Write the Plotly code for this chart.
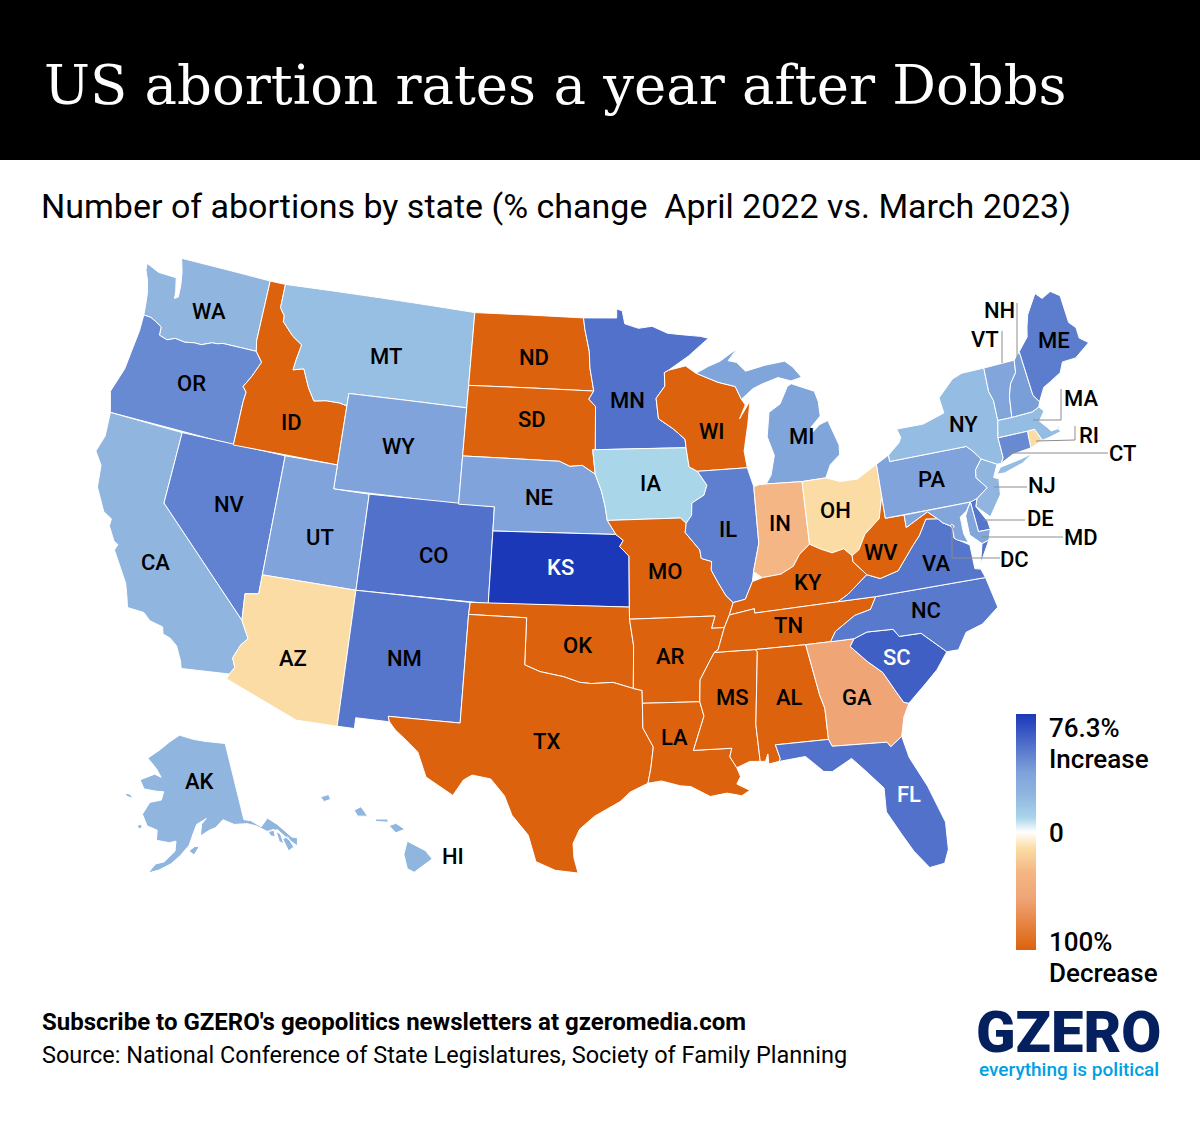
import plotly.graph_objects as go
from plotly.colors import sample_colorscale

state_codes = ["WA", "OR", "CA", "NV", "ID", "MT", "WY", "UT", "AZ", "CO", "NM", "ND", "SD", "NE", "KS", "OK", "TX",
               "MN", "IA", "MO", "AR", "LA", "WI", "IL", "MS", "MI", "IN", "OH", "KY", "TN", "AL", "GA", "FL", "SC",
               "NC", "VA", "WV", "PA", "NY", "VT", "NH", "ME", "MA", "RI", "CT", "NJ", "DE", "MD", "DC", "AK", "HI"]
pct_change = [24, 47, 24, 50, -100, 20, 38, 38, -14, 56, 54, -100, -100, 38, 76.3, -100, -100,
              56, 9, -100, -100, -100, -100, 51, -100, 37, -34, -14, -100, -100, -100, -56, 56, 62.5,
              53, 54, -100, 38, 21, 36, 40, 52, 21, -14, 47, 24, 54, 36, 40, 24, 24]

# rough state outlines, lon/lat
state_outlines = {
    "WA": [[(-124.73, 48.38), (-123.9, 48.16), (-122.75, 48.15), (-122.55, 47.6), (-122.5, 47.3), (-122.3, 47.4), (-122.35, 47.9), (-122.5, 48.45), (-122.76, 49.0), (-117.03, 49.0), (-117.04, 46.43), (-116.92, 46.0), (-118.98, 46.0), (-119.3, 45.93), (-119.6, 45.92), (-120.2, 45.73), (-120.65, 45.73), (-121.2, 45.65), (-121.8, 45.7), (-122.25, 45.55), (-122.76, 45.65), (-122.8, 46.0), (-123.2, 46.15), (-123.55, 46.26), (-124.0, 46.27), (-124.07, 46.7), (-124.18, 47.2), (-124.4, 47.7), (-124.68, 48.1)]],
    "OR": [[(-124.0, 46.27), (-123.55, 46.26), (-123.2, 46.15), (-122.8, 46.0), (-122.76, 45.65), (-122.25, 45.55), (-121.8, 45.7), (-121.2, 45.65), (-120.65, 45.73), (-120.2, 45.73), (-119.6, 45.92), (-119.3, 45.93), (-118.98, 46.0), (-116.92, 46.0), (-116.47, 45.6), (-116.85, 44.95), (-117.22, 44.45), (-116.98, 44.25), (-117.03, 43.83), (-117.03, 42.0), (-124.21, 42.0), (-124.56, 42.84), (-124.15, 43.9), (-124.07, 44.7), (-123.97, 45.6)]],
    "CA": [[(-124.21, 42.0), (-120.0, 42.0), (-120.0, 39.0), (-114.63, 35.0), (-114.14, 34.3), (-114.44, 34.0), (-114.72, 33.4), (-114.52, 33.03), (-114.72, 32.72), (-117.12, 32.53), (-117.25, 32.85), (-117.6, 33.4), (-118.0, 33.65), (-118.4, 33.75), (-118.5, 34.03), (-119.2, 34.15), (-119.6, 34.42), (-120.47, 34.45), (-120.65, 34.9), (-120.88, 35.4), (-121.9, 36.6), (-121.8, 36.85), (-122.05, 36.95), (-122.5, 37.5), (-122.5, 37.8), (-123.0, 38.0), (-123.7, 38.9), (-123.85, 39.8), (-124.35, 40.3), (-124.1, 41.0)]],
    "NV": [[(-120.0, 42.0), (-114.04, 42.0), (-114.04, 36.2), (-114.74, 36.1), (-114.63, 35.0), (-120.0, 39.0)]],
    "ID": [[(-117.03, 49.0), (-116.05, 49.0), (-116.05, 48.0), (-115.72, 47.7), (-115.7, 47.45), (-114.95, 46.93), (-114.33, 46.65), (-114.48, 46.0), (-114.55, 45.56), (-113.93, 45.69), (-113.45, 44.95), (-113.0, 44.45), (-112.3, 44.55), (-111.5, 44.55), (-111.05, 44.48), (-111.05, 42.0), (-117.03, 42.0), (-117.03, 43.83), (-116.98, 44.25), (-117.22, 44.45), (-116.85, 44.95), (-116.47, 45.6), (-116.92, 46.0), (-117.04, 46.43)]],
    "MT": [[(-116.05, 49.0), (-104.05, 49.0), (-104.05, 45.0), (-111.05, 45.0), (-111.05, 44.48), (-111.5, 44.55), (-112.3, 44.55), (-113.0, 44.45), (-113.45, 44.95), (-113.93, 45.69), (-114.55, 45.56), (-114.48, 46.0), (-114.33, 46.65), (-114.95, 46.93), (-115.7, 47.45), (-115.72, 47.7), (-116.05, 48.0)]],
    "WY": [[(-111.05, 45.0), (-104.05, 45.0), (-104.05, 41.0), (-111.05, 41.0)]],
    "UT": [[(-114.04, 42.0), (-111.05, 42.0), (-111.05, 41.0), (-109.05, 41.0), (-109.05, 37.0), (-114.04, 37.0)]],
    "CO": [[(-109.05, 41.0), (-102.05, 41.0), (-102.05, 37.0), (-109.05, 37.0)]],
    "AZ": [[(-114.04, 37.0), (-109.05, 37.0), (-109.05, 31.33), (-111.07, 31.33), (-114.81, 32.5), (-114.72, 32.72), (-114.52, 33.03), (-114.72, 33.4), (-114.44, 34.0), (-114.14, 34.3), (-114.63, 35.0), (-114.74, 36.1), (-114.04, 36.2)]],
    "NM": [[(-109.05, 37.0), (-103.0, 37.0), (-103.04, 36.5), (-103.06, 32.0), (-106.62, 32.0), (-106.53, 31.78), (-108.2, 31.78), (-108.2, 31.33), (-109.05, 31.33)]],
    "ND": [[(-104.05, 49.0), (-97.23, 49.0), (-97.13, 48.5), (-96.85, 47.6), (-96.8, 46.9), (-96.56, 45.94), (-104.05, 45.94)]],
    "SD": [[(-104.05, 45.94), (-96.56, 45.94), (-96.85, 45.6), (-96.45, 45.3), (-96.45, 43.5), (-96.6, 43.5), (-96.45, 42.49), (-97.2, 42.85), (-97.9, 42.8), (-98.5, 43.0), (-104.05, 43.0)]],
    "NE": [[(-104.05, 43.0), (-98.5, 43.0), (-97.9, 42.8), (-97.2, 42.85), (-96.45, 42.49), (-96.1, 41.8), (-95.9, 41.2), (-95.77, 40.58), (-95.3, 40.0), (-102.05, 40.0), (-102.05, 41.0), (-104.05, 41.0)]],
    "KS": [[(-102.05, 40.0), (-95.3, 40.0), (-94.9, 39.75), (-95.1, 39.5), (-94.6, 39.1), (-94.62, 37.0), (-102.05, 37.0)]],
    "OK": [[(-103.0, 37.0), (-94.62, 37.0), (-94.62, 36.5), (-94.43, 35.4), (-94.48, 33.64), (-95.5, 33.9), (-96.6, 33.85), (-97.2, 33.9), (-98.0, 34.12), (-99.2, 34.3), (-100.0, 34.56), (-100.0, 36.5), (-103.04, 36.5)]],
    "TX": [[(-103.04, 36.5), (-100.0, 36.5), (-100.0, 34.56), (-99.2, 34.3), (-98.0, 34.12), (-97.2, 33.9), (-96.6, 33.85), (-95.5, 33.9), (-94.48, 33.64), (-94.04, 33.55), (-94.04, 33.02), (-94.04, 32.0), (-93.55, 31.2), (-93.7, 30.3), (-93.85, 29.7), (-94.7, 29.35), (-95.2, 28.95), (-96.4, 28.35), (-97.1, 27.8), (-97.4, 27.2), (-97.35, 26.6), (-97.15, 25.96), (-98.2, 26.06), (-99.1, 26.4), (-99.5, 27.5), (-100.3, 28.3), (-100.7, 29.1), (-101.4, 29.77), (-102.3, 29.88), (-102.7, 29.65), (-103.15, 28.98), (-104.5, 29.65), (-105.0, 30.65), (-105.6, 31.08), (-106.2, 31.47), (-106.53, 31.78), (-106.62, 32.0), (-103.06, 32.0)]],
    "MN": [[(-97.23, 49.0), (-95.15, 49.0), (-95.15, 49.38), (-94.8, 49.3), (-94.65, 48.75), (-93.8, 48.55), (-92.95, 48.62), (-92.0, 48.3), (-91.0, 48.2), (-90.0, 48.1), (-89.5, 48.0), (-90.8, 47.3), (-92.05, 46.75), (-92.3, 46.66), (-92.3, 46.1), (-92.85, 45.6), (-92.75, 44.75), (-91.9, 44.3), (-91.25, 43.85), (-91.22, 43.5), (-96.45, 43.5), (-96.45, 45.3), (-96.85, 45.6), (-96.56, 45.94), (-96.8, 46.9), (-96.85, 47.6), (-97.13, 48.5)]],
    "IA": [[(-96.6, 43.5), (-91.22, 43.5), (-91.1, 42.7), (-90.64, 42.5), (-90.15, 41.9), (-90.35, 41.5), (-91.05, 41.2), (-91.1, 40.7), (-91.42, 40.38), (-91.73, 40.61), (-95.77, 40.58), (-95.9, 41.2), (-96.1, 41.8), (-96.45, 42.49)]],
    "MO": [[(-95.77, 40.58), (-91.73, 40.61), (-91.42, 40.38), (-91.5, 40.0), (-90.75, 39.25), (-90.7, 38.9), (-90.15, 38.75), (-90.2, 38.4), (-89.9, 37.9), (-89.5, 37.3), (-89.15, 37.0), (-89.4, 36.5), (-89.7, 36.0), (-90.37, 36.0), (-90.15, 36.5), (-94.62, 36.5), (-94.62, 37.0), (-94.6, 39.1), (-95.1, 39.5), (-94.9, 39.75), (-95.3, 40.0)]],
    "AR": [[(-94.62, 36.5), (-90.15, 36.5), (-90.37, 36.0), (-89.7, 36.0), (-90.1, 35.1), (-90.3, 35.0), (-90.6, 34.6), (-91.1, 33.9), (-91.17, 33.0), (-94.04, 33.02), (-94.04, 33.55), (-94.48, 33.64), (-94.43, 35.4)]],
    "LA": [[(-94.04, 33.02), (-91.17, 33.0), (-91.0, 32.4), (-91.6, 31.0), (-89.73, 31.0), (-89.85, 30.65), (-89.55, 30.18), (-89.4, 29.8), (-89.6, 29.5), (-89.0, 29.2), (-89.4, 29.0), (-90.1, 29.15), (-90.9, 29.05), (-91.8, 29.5), (-92.3, 29.55), (-93.2, 29.78), (-93.85, 29.7), (-93.7, 30.3), (-93.55, 31.2), (-94.04, 32.0)]],
    "MS": [[(-91.17, 33.0), (-91.1, 33.9), (-90.6, 34.6), (-90.3, 35.0), (-88.2, 35.0), (-88.1, 34.9), (-88.47, 31.9), (-88.4, 30.37), (-88.9, 30.4), (-89.55, 30.18), (-89.85, 30.65), (-89.73, 31.0), (-91.6, 31.0), (-91.0, 32.4)]],
    "AL": [[(-88.2, 35.0), (-85.6, 35.0), (-85.18, 32.87), (-85.0, 32.3), (-85.0, 31.0), (-87.6, 31.0), (-87.42, 30.4), (-87.5, 30.3), (-88.0, 30.23), (-88.0, 30.65), (-88.15, 30.35), (-88.4, 30.37), (-88.47, 31.9), (-88.1, 34.9)]],
    "GA": [[(-85.6, 35.0), (-83.1, 35.0), (-83.35, 34.7), (-82.6, 34.0), (-81.9, 33.45), (-81.4, 32.6), (-81.1, 32.1), (-80.85, 32.03), (-81.2, 31.5), (-81.45, 30.72), (-82.05, 30.36), (-82.2, 30.57), (-84.86, 30.7), (-85.0, 31.0), (-85.0, 32.3), (-85.18, 32.87)]],
    "FL": [[(-87.6, 31.0), (-85.0, 31.0), (-84.86, 30.7), (-82.2, 30.57), (-82.05, 30.36), (-81.45, 30.72), (-81.25, 29.8), (-80.6, 28.5), (-80.05, 26.9), (-80.13, 25.75), (-80.4, 25.2), (-81.1, 25.12), (-81.7, 25.9), (-82.15, 26.7), (-82.7, 27.7), (-82.65, 28.7), (-83.4, 29.5), (-84.0, 30.1), (-85.0, 29.65), (-85.4, 29.7), (-86.2, 30.4), (-87.5, 30.3), (-87.42, 30.4)]],
    "SC": [[(-83.1, 35.0), (-82.4, 35.2), (-81.05, 35.15), (-80.8, 34.82), (-79.67, 34.8), (-78.55, 33.86), (-79.2, 33.2), (-79.9, 32.7), (-80.85, 32.03), (-81.1, 32.1), (-81.4, 32.6), (-81.9, 33.45), (-82.6, 34.0), (-83.35, 34.7)]],
    "NC": [[(-84.32, 35.0), (-83.1, 35.0), (-82.4, 35.2), (-81.05, 35.15), (-80.8, 34.82), (-79.67, 34.8), (-78.55, 33.86), (-77.95, 33.85), (-77.4, 34.5), (-76.5, 34.7), (-75.55, 35.25), (-75.85, 36.55), (-81.68, 36.59), (-82.05, 36.1), (-82.9, 35.95), (-84.0, 35.4)]],
    "TN": [[(-90.3, 35.0), (-88.2, 35.0), (-85.6, 35.0), (-84.32, 35.0), (-84.0, 35.4), (-82.9, 35.95), (-82.05, 36.1), (-81.68, 36.59), (-83.68, 36.6), (-88.07, 36.5), (-88.07, 36.68), (-89.4, 36.5), (-89.7, 36.0), (-90.1, 35.1)]],
    "KY": [[(-89.4, 36.5), (-88.07, 36.68), (-88.07, 36.5), (-83.68, 36.6), (-83.1, 36.85), (-81.97, 37.54), (-82.6, 38.15), (-82.6, 38.4), (-83.0, 38.73), (-83.65, 38.63), (-84.25, 38.85), (-84.8, 39.1), (-85.4, 38.73), (-85.8, 38.27), (-86.5, 38.0), (-87.5, 37.93), (-88.05, 37.8), (-88.5, 37.1), (-89.15, 37.0)]],
    "VA": [[(-83.68, 36.6), (-81.68, 36.59), (-75.85, 36.55), (-76.0, 36.93), (-76.3, 37.0), (-76.3, 37.6), (-76.3, 38.0), (-77.05, 38.4), (-77.04, 38.8), (-77.12, 38.93), (-77.5, 39.12), (-77.72, 39.32), (-78.35, 39.4), (-78.87, 38.77), (-79.3, 38.42), (-80.3, 37.5), (-81.3, 37.3), (-81.97, 37.54), (-83.1, 36.85)],
           [(-75.95, 37.15), (-75.65, 37.95), (-75.25, 38.03)]],
    "WV": [[(-81.97, 37.54), (-81.3, 37.3), (-80.3, 37.5), (-79.3, 38.42), (-78.87, 38.77), (-78.35, 39.4), (-77.72, 39.32), (-78.2, 39.68), (-79.48, 39.2), (-79.48, 39.72), (-80.52, 39.72), (-80.52, 40.64), (-80.85, 39.75), (-81.75, 39.2), (-82.2, 38.6), (-82.6, 38.4), (-82.6, 38.15)]],
    "OH": [[(-84.8, 41.7), (-83.45, 41.73), (-82.7, 41.5), (-81.7, 41.5), (-80.52, 41.98), (-80.52, 40.64), (-80.85, 39.75), (-81.75, 39.2), (-82.2, 38.6), (-82.6, 38.4), (-83.0, 38.73), (-83.65, 38.63), (-84.25, 38.85), (-84.8, 39.1)]],
    "IN": [[(-87.53, 41.7), (-87.2, 41.76), (-86.82, 41.76), (-84.8, 41.7), (-84.8, 39.1), (-85.4, 38.73), (-85.8, 38.27), (-86.5, 38.0), (-87.5, 37.93), (-87.95, 38.2), (-87.53, 39.35)]],
    "IL": [[(-90.64, 42.5), (-87.8, 42.5), (-87.53, 41.7), (-87.53, 39.35), (-87.95, 38.2), (-88.05, 37.8), (-88.5, 37.1), (-89.15, 37.0), (-89.5, 37.3), (-89.9, 37.9), (-90.2, 38.4), (-90.15, 38.75), (-90.7, 38.9), (-90.75, 39.25), (-91.5, 40.0), (-91.42, 40.38), (-91.1, 40.7), (-91.05, 41.2), (-90.35, 41.5), (-90.15, 41.9)]],
    "WI": [[(-92.05, 46.75), (-91.0, 46.9), (-90.4, 46.57), (-89.1, 46.13), (-88.1, 45.9), (-87.8, 45.35), (-87.6, 45.1), (-88.0, 44.55), (-87.3, 45.25), (-87.55, 44.3), (-87.9, 43.2), (-87.8, 42.5), (-90.64, 42.5), (-91.1, 42.7), (-91.22, 43.5), (-91.25, 43.85), (-91.9, 44.3), (-92.75, 44.75), (-92.85, 45.6), (-92.3, 46.1), (-92.3, 46.66)]],
    "MI": [[(-86.82, 41.76), (-86.5, 42.1), (-86.2, 42.9), (-86.5, 43.7), (-86.25, 44.7), (-85.55, 45.0), (-85.0, 45.7), (-84.75, 45.78), (-83.45, 45.35), (-83.3, 44.9), (-83.3, 44.3), (-83.9, 43.9), (-83.9, 43.65), (-83.4, 43.95), (-82.9, 44.07), (-82.45, 43.0), (-82.5, 42.6), (-83.1, 42.25), (-83.45, 41.73), (-84.8, 41.7)],
           [(-90.4, 46.57), (-89.1, 46.13), (-88.1, 45.9), (-87.8, 45.35), (-87.05, 45.75), (-86.5, 45.9), (-85.5, 46.1), (-84.75, 45.9), (-84.1, 46.0), (-84.55, 46.47), (-85.0, 46.75), (-86.2, 46.67), (-87.4, 46.5), (-87.9, 46.9), (-88.4, 47.0), (-87.8, 47.47), (-88.9, 47.0), (-89.6, 46.83)]],
    "PA": [[(-80.52, 41.98), (-79.76, 42.27), (-79.76, 42.0), (-75.35, 42.0), (-75.05, 41.75), (-74.7, 41.36), (-75.13, 40.97), (-75.2, 40.65), (-74.72, 40.15), (-75.4, 39.8), (-75.79, 39.72), (-80.52, 39.72)]],
    "NY": [[(-79.76, 42.27), (-79.05, 42.7), (-78.9, 42.9), (-79.05, 43.27), (-77.5, 43.27), (-76.2, 43.55), (-76.3, 44.2), (-75.3, 44.85), (-74.7, 45.0), (-73.35, 45.0), (-73.4, 44.0), (-73.25, 43.6), (-73.28, 42.75), (-73.5, 42.05), (-73.48, 41.2), (-73.66, 41.0), (-73.9, 41.0), (-74.7, 41.36), (-75.05, 41.75), (-75.35, 42.0), (-79.76, 42.0)],
           [(-74.03, 40.6), (-73.75, 40.85), (-72.6, 40.97), (-71.87, 41.07), (-72.5, 40.8), (-73.6, 40.58)]],
    "VT": [[(-73.35, 45.0), (-71.5, 45.01), (-71.6, 44.5), (-72.05, 44.1), (-72.3, 43.6), (-72.46, 42.73), (-73.28, 42.75), (-73.25, 43.6), (-73.4, 44.0)]],
    "NH": [[(-71.5, 45.01), (-71.08, 45.3), (-70.97, 43.4), (-70.7, 43.07), (-70.82, 42.87), (-71.25, 42.74), (-72.46, 42.73), (-72.3, 43.6), (-72.05, 44.1), (-71.6, 44.5)]],
    "ME": [[(-71.08, 45.3), (-70.4, 45.8), (-70.25, 46.2), (-70.0, 46.7), (-69.23, 47.46), (-68.9, 47.18), (-68.3, 47.36), (-67.8, 47.07), (-67.78, 45.9), (-67.45, 45.6), (-67.45, 45.15), (-67.0, 44.85), (-68.0, 44.4), (-68.8, 44.4), (-69.1, 44.0), (-69.8, 43.75), (-70.25, 43.6), (-70.7, 43.07), (-70.97, 43.4)]],
    "MA": [[(-73.5, 42.05), (-73.28, 42.75), (-72.46, 42.73), (-71.25, 42.74), (-70.82, 42.87), (-70.6, 42.65), (-71.0, 42.3), (-70.65, 41.95), (-70.5, 41.78), (-70.0, 41.8), (-70.25, 42.07), (-70.0, 41.65), (-70.65, 41.55), (-71.12, 41.5), (-71.38, 42.02), (-71.8, 42.02)]],
    "RI": [[(-71.8, 42.02), (-71.38, 42.02), (-71.12, 41.5), (-71.85, 41.32)]],
    "CT": [[(-73.5, 42.05), (-71.8, 42.02), (-71.85, 41.32), (-72.9, 41.25), (-73.66, 41.0), (-73.48, 41.2)]],
    "NJ": [[(-74.7, 41.36), (-73.9, 41.0), (-74.25, 40.5), (-73.98, 40.4), (-74.1, 39.75), (-74.9, 38.95), (-75.55, 39.5), (-75.4, 39.8), (-74.72, 40.15), (-75.2, 40.65), (-75.13, 40.97)]],
    "DE": [[(-75.79, 39.72), (-75.4, 39.8), (-75.55, 39.5), (-75.1, 38.8), (-75.05, 38.45), (-75.7, 38.46)]],
    "MD": [[(-79.48, 39.72), (-75.79, 39.72), (-76.1, 39.4), (-76.5, 39.2), (-76.5, 38.5), (-76.35, 38.1), (-76.9, 38.3), (-77.05, 38.4), (-77.04, 38.8), (-77.12, 38.93), (-77.5, 39.12), (-77.72, 39.32), (-78.2, 39.68), (-79.48, 39.2)],
           [(-75.95, 39.55), (-75.79, 39.72), (-75.7, 38.46), (-75.05, 38.45), (-75.25, 38.03), (-75.65, 37.95), (-76.2, 38.4), (-76.2, 39.2)]],
    "DC": [[(-77.12, 38.93), (-77.04, 38.99), (-76.91, 38.89), (-77.04, 38.8)]],
    "AK": [[(-141.0, 69.65), (-141.0, 60.3), (-139.5, 60.0), (-137.5, 58.95), (-135.5, 59.7), (-133.8, 58.6), (-131.8, 56.6), (-130.0, 56.0), (-130.2, 55.0), (-131.2, 55.2), (-132.6, 56.4), (-134.2, 58.0), (-136.5, 58.2), (-138.5, 59.2), (-140.5, 59.75), (-143.5, 60.0), (-146.0, 60.8), (-148.0, 60.0), (-149.5, 59.8), (-151.8, 59.2), (-151.3, 60.6), (-150.0, 61.2), (-152.5, 60.6), (-153.5, 59.5), (-154.5, 58.2), (-156.5, 57.0), (-158.5, 56.0), (-161.0, 55.2), (-163.2, 54.75), (-161.8, 55.9), (-160.0, 56.2), (-157.7, 57.5), (-157.5, 58.7), (-159.0, 58.5), (-162.0, 58.7), (-162.0, 59.9), (-164.5, 60.3), (-166.0, 61.6), (-165.0, 62.6), (-164.5, 63.1), (-161.5, 63.5), (-161.0, 64.5), (-163.0, 64.5), (-166.5, 64.6), (-168.0, 65.6), (-164.0, 66.5), (-162.0, 66.2), (-163.7, 67.2), (-166.7, 68.3), (-163.0, 69.5), (-160.0, 70.5), (-156.5, 71.35), (-152.0, 70.8), (-148.0, 70.4), (-144.0, 70.0)],
           [(-154.6, 57.5), (-153.3, 58.0), (-152.2, 58.0), (-153.5, 57.0)],
           [(-166.9, 60.2), (-166.0, 60.4), (-165.6, 60.0), (-166.4, 59.85)],
           [(-171.7, 63.7), (-170.0, 63.7), (-169.0, 63.3), (-170.5, 63.35)],
           [(-167.0, 53.95), (-166.2, 54.0), (-166.3, 53.5)],
           [(-169.0, 53.4), (-167.8, 53.6), (-168.5, 53.1)],
           [(-136.3, 58.2), (-134.9, 58.2), (-135.2, 57.3), (-136.1, 57.6)],
           [(-134.6, 57.9), (-133.9, 57.4), (-133.9, 56.2), (-134.7, 56.6)],
           [(-133.8, 56.8), (-132.6, 56.8), (-132.2, 55.4), (-133.5, 55.2)]],
    "HI": [[(-155.9, 20.25), (-155.1, 19.85), (-154.8, 19.5), (-155.6, 18.95), (-155.9, 19.1), (-156.05, 19.7)],
           [(-156.7, 20.9), (-156.4, 21.0), (-156.0, 20.75), (-156.4, 20.6)],
           [(-158.25, 21.55), (-157.95, 21.7), (-157.65, 21.3), (-158.1, 21.3)],
           [(-159.75, 22.1), (-159.4, 22.2), (-159.3, 22.0), (-159.6, 21.9)],
           [(-157.3, 21.18), (-156.75, 21.18), (-156.75, 21.05), (-157.3, 21.08)]],
}
# the reference places its insets a little apart from the stock albers usa ones
inset_shift = {"AK": (3, 0), "HI": (0.2, 0.36)}

state_labels = {"WA": (209, 312), "OR": (191, 384), "CA": (155, 562), "NV": (229, 504), "ID": (291, 422), "MT": (386, 356),
                "WY": (398, 447), "UT": (320, 537), "AZ": (293, 658), "CO": (434, 556), "NM": (404, 658), "ND": (534, 357),
                "SD": (532, 420), "NE": (539, 497), "KS": (560, 567), "OK": (577, 645), "TX": (546, 741), "MN": (627, 400),
                "IA": (650, 484), "MO": (665, 571), "AR": (670, 656), "LA": (674, 737), "WI": (712, 431), "IL": (728, 529),
                "MS": (732, 697), "MI": (801, 436), "IN": (780, 523), "OH": (835, 510), "KY": (808, 582), "TN": (788, 625),
                "AL": (789, 697), "GA": (857, 697), "FL": (909, 794), "SC": (897, 657), "NC": (926, 611), "VA": (936, 563),
                "WV": (881, 553), "PA": (931, 479), "NY": (963, 424), "ME": (1054, 341), "AK": (199, 781), "HI": (453, 856)}
white_labels = ["KS", "FL", "SC"]
callout_labels = {"NH": (999, 311), "VT": (985, 339), "MA": (1081, 398), "RI": (1089, 435), "CT": (1122, 454),
                  "NJ": (1042, 486), "DE": (1040, 519), "MD": (1081, 537), "DC": (1014, 559)}
callout_paths = [[(1017, 303), (1017, 358)], [(1002, 331), (1002, 363)], [(1061, 389), (1061, 420), (1033, 420)],
                 [(1075, 426), (1075, 440), (1036, 441)], [(1108, 453), (1008, 453)], [(1027, 487), (994, 487)],
                 [(1025, 520), (983, 520)], [(1063, 537), (982, 537)], [(1000, 558), (952, 558), (952, 527)]]

color_stops = [[0, "rgb(220,98,13)"], [0.22, "rgb(240,165,119)"], [0.33, "rgb(244,182,132)"], [0.43, "rgb(251,220,164)"],
               [0.5, "rgb(255,255,255)"], [0.56, "rgb(169,213,233)"], [0.66, "rgb(143,181,224)"], [0.75, "rgb(127,163,218)"],
               [0.85, "rgb(88,120,205)"], [1, "rgb(26,56,184)"]]


def px_x(x):
    return x / 1200


def px_y(y):
    return 1 - y / 1132


def clockwise(ring):
    area = sum(a[0] * b[1] - b[0] * a[1] for a, b in zip(ring, ring[1:] + ring[:1]))
    ring = ring[::-1] if area > 0 else ring
    return ring + ring[:1]


fig = go.Figure()

# legend is symmetric around 0, so stretch the increases onto the same span as the decreases
for code, value in zip(state_codes, pct_change):
    value = value * 100 / 76.3 if value > 0 else value
    fill = sample_colorscale(color_stops, [(value + 100) / 200])[0]
    dlon, dlat = inset_shift.get(code, (0, 0))
    lons, lats = [], []
    for ring in state_outlines[code]:
        ring = clockwise(ring)
        lons += [p[0] + dlon for p in ring] + [None]
        lats += [p[1] + dlat for p in ring] + [None]
    fig.add_trace(go.Scattergeo(lon=lons[:-1], lat=lats[:-1], mode="lines", fill="toself", fillcolor=fill, name=code,
                                line=dict(color="white", width=1), hoverinfo="name"))

# invisible trace, only there for the colorbar
fig.add_trace(go.Scattergeo(
    lon=[-98.5, -98.5], lat=[39, 39], mode="markers", hoverinfo="skip",
    marker=dict(color=[-100, 100], cmin=-100, cmax=100, colorscale=color_stops, opacity=0, showscale=True,
                colorbar=dict(x=px_x(1016), xanchor="left", xpad=0, y=px_y(832), yanchor="middle", ypad=0,
                              thicknessmode="pixels", thickness=20, lenmode="pixels", len=236,
                              outlinewidth=0, showticklabels=False, ticks="")),
))

annotations = []


def add_text(text, x, y, size, color="black", family="Roboto", xanchor="left", weight=None):
    annotations.append(dict(text=text, x=px_x(x), y=px_y(y), xref="paper", yref="paper", xanchor=xanchor, yanchor="middle",
                            showarrow=False, font=dict(family=family, size=size, color=color, weight=weight)))


add_text("US abortion rates a year after Dobbs", 42, 85, 54.5, "white", "DejaVu Serif")
add_text("Number of abortions by state (% change\u00a0 April 2022 vs. March 2023)", 39, 206, 34)
for code, (x, y) in {**state_labels, **callout_labels}.items():
    add_text(code, x, y, 22, "white" if code in white_labels else "black", xanchor="center", weight=500)
add_text("76.3%", 1047, 728, 26, weight=500)
add_text("Increase", 1047, 759, 26, weight=500)
add_text("0", 1047, 833, 26, weight=500)
add_text("100%", 1047, 942, 26, weight=500)
add_text("Decrease", 1047, 973, 26, weight=500)
add_text("Subscribe to GZERO's geopolitics newsletters at gzeromedia.com", 40, 1022, 24, weight=700)
add_text("Source: National Conference of State Legislatures, Society of Family Planning", 40, 1055, 23.5)
add_text("GZERO", 1068, 1032, 58, "#05205e", xanchor="center", weight=900)
add_text("everything is political", 1069, 1069, 19, "#00a0e4", xanchor="center", weight=500)

shapes = [dict(type="rect", xref="paper", yref="paper", x0=0, x1=1, y0=px_y(160), y1=1, fillcolor="black", line_width=0, layer="below")]
for path in callout_paths:
    for (x0, y0), (x1, y1) in zip(path, path[1:]):
        shapes.append(dict(type="line", xref="paper", yref="paper", x0=px_x(x0), y0=px_y(y0), x1=px_x(x1), y1=px_y(y1),
                           line=dict(color="#8c8c8c", width=1)))

fig.update_layout(
    width=1200, height=1132, margin=dict(l=0, r=0, t=0, b=0), paper_bgcolor="white",
    annotations=annotations, shapes=shapes, showlegend=False,
    geo=dict(
        projection=dict(type="albers usa", scale=1.058), scope="usa", bgcolor="rgba(0,0,0,0)",
        domain=dict(x=[0, 1184 / 1200], y=[px_y(976), px_y(156)]),
        showland=False, showlakes=False, showcoastlines=False, showsubunits=False, showcountries=False, showframe=False,
    ),
)
fig.write_html("out.html", config=dict(displayModeBar=False), post_script="document.body.style.margin = '0';")
